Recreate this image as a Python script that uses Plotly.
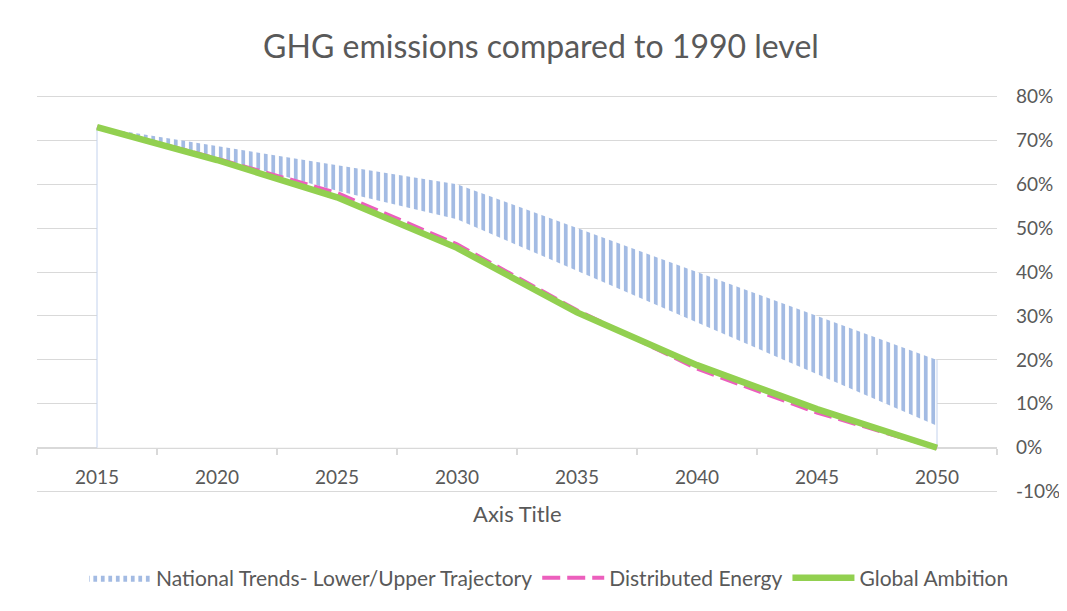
import plotly.graph_objects as go

years = [2015, 2020, 2025, 2030, 2035, 2040, 2045, 2050]
national_lower = [73, 66.0, 58.5, 52.0, 40.3, 28.5, 16.8, 5.0]
national_upper = [73, 68.7, 64.3, 60.0, 50.0, 40.0, 30.0, 20.0]
distributed_energy = [73, 65.8, 58.0, 46.3, 31.3, 18.0, 8.0, 0.0]
global_ambition = [73, 65.5, 57.0, 45.5, 30.8, 18.8, 8.8, 0.0]
tick_labels = [str(y) for y in years]
y_ticks = [-10, 0, 10, 20, 30, 40, 50, 60, 70, 80]
y_tick_labels = [f"{v}%" for v in y_ticks]

FONT = "Lato"
TXT = "#595959"
GRID = "#d9d9d9"
ymin, ymax = -10, 80
YPAD = 0.3
xmin, xmax = 2012.5, 2052.5

# the page adds an 8px body margin; positions below are shifted to compensate
OFF = 8
W, H = 1067, 611
PX_PER = 4.4
pad_px = YPAD * PX_PER

fig = go.Figure()
fig.add_trace(go.Scatter(
    x=years, y=national_lower, mode="lines", line=dict(width=0),
    fill="tozeroy", fillcolor="white", showlegend=False, hoverinfo="skip"))
fig.add_trace(go.Scatter(
    x=years, y=national_upper, mode="lines", line=dict(width=0, color="#b4c7e7"),
    fill="tonexty", fillcolor="white",
    fillpattern=dict(shape="|", fgcolor="#a3bbe3", bgcolor="white", fgopacity=1,
                     size=7.5, solidity=0.5),
    name="National Trends- Lower/Upper Trajectory"))
# thin outline at the two ends of the area
fig.add_trace(go.Scatter(
    x=[years[0], years[0]], y=[0, national_lower[0]], mode="lines",
    line=dict(color="#c3d2ed", width=1), showlegend=False, hoverinfo="skip"))
fig.add_trace(go.Scatter(
    x=[years[-1], years[-1]], y=[0, national_upper[-1]], mode="lines",
    line=dict(color="#c3d2ed", width=1), showlegend=False, hoverinfo="skip"))
fig.add_trace(go.Scatter(
    x=years, y=distributed_energy, mode="lines",
    line=dict(color="#ec5fbd", width=4, dash="18px,7px"),
    name="Distributed Energy"))
fig.add_trace(go.Scatter(
    x=years, y=global_ambition, mode="lines",
    line=dict(color="#92d050", width=6.5),
    name="Global Ambition"))

top_px = 96 - OFF - pad_px
bot_px = 492 - OFF + pad_px
fig.update_layout(
    width=W, height=H,
    margin=dict(l=37 - OFF, r=W - (997 - OFF), t=round(top_px), b=round(H - bot_px), pad=0,
                autoexpand=False),
    paper_bgcolor="white", plot_bgcolor="white",
    font=dict(family=FONT, color=TXT, size=19),
    title=dict(text="GHG emissions compared to 1990 level",
               x=(541 - OFF) / W, xref="container", xanchor="center",
               y=1 - (47 - OFF) / H, yref="container", yanchor="middle",
               font=dict(size=32, color=TXT, family=FONT)),
    showlegend=True,
    legend=dict(orientation="h", x=(549 - OFF) / W, xref="container", xanchor="center",
                y=1 - (578 - OFF) / H, yref="container", yanchor="middle",
                font=dict(size=21, color=TXT), traceorder="normal", itemwidth=62),
    xaxis=dict(range=[xmin, xmax], tickmode="array", tickvals=years, ticktext=tick_labels,
               ticks="", showgrid=False, zeroline=False, showline=False, automargin=False,
               anchor="free", position=(0 - (ymin - YPAD)) / (ymax - ymin + 2 * YPAD),
               ticklabelstandoff=16,
               tickfont=dict(size=19, color=TXT),
               minor=dict(tickmode="array", tickvals=[2012.5 + 5 * i for i in range(9)],
                          ticks="outside", ticklen=6, tickcolor=GRID, tickwidth=1.5,
                          showgrid=False)),
    yaxis=dict(range=[ymin - YPAD, ymax + YPAD], side="right", tickmode="array",
               tickvals=y_ticks, ticktext=y_tick_labels, automargin=False,
               showgrid=True, gridcolor=GRID, gridwidth=1.3,
               zeroline=True, zerolinecolor=GRID, zerolinewidth=1.5,
               showline=False, ticks="", ticklabelstandoff=18,
               tickfont=dict(size=19, color=TXT)),
    annotations=[dict(text="Axis Title", x=0.5, xref="paper",
                      y=(492 + pad_px - 514) / (396 + 2 * pad_px), yref="paper",
                      xanchor="center", yanchor="middle", showarrow=False,
                      font=dict(size=22, color=TXT))],
)

fig.write_html("out.html")
